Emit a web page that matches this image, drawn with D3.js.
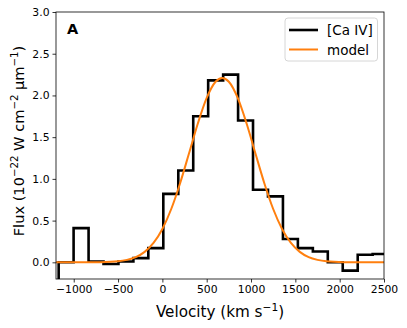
<!DOCTYPE html>
<html><head><meta charset="utf-8">
<script src="https://cdn.jsdelivr.net/npm/d3@7"></script>
<style>body{margin:0;background:#fff}svg{display:block;font-family:"DejaVu Sans",sans-serif}</style>
</head><body><svg id="c" width="407" height="328"></svg>
<script>
// Observed [Ca IV] binned spectrum (bin centre velocity, km/s) and flux
const binVelocity = [-1254,-1086,-917,-748,-580,-411,-243,-74,95,264,432,601,770,938,1107,1276,1444,1613,1782,1950,2119,2288,2456,2625];
const binFlux     = [-0.35,0.0,0.41,0.01,-0.02,0.01,0.05,0.17,0.82,1.10,1.75,2.18,2.25,1.70,0.87,0.79,0.28,0.17,0.13,0.0,-0.10,0.09,0.10,0.10];
// Model curve
const modelVelocity = [-1200,-900,-700,-500,-400,-300,-200,-100,0,100,200,300,400,500,600,675,750,850,950,1050,1150,1250,1350,1450,1550,1650,1750,1850,2050,2250,2500];
const modelFlux     = [0,0,0.002,0.012,0.029,0.062,0.125,0.232,0.400,0.639,0.948,1.304,1.664,1.970,2.164,2.210,2.164,1.970,1.664,1.304,0.948,0.639,0.400,0.232,0.125,0.062,0.029,0.012,0.002,0,0];
const xTicks = [-1000,-500,0,500,1000,1500,2000,2500];
const yTicks = [0,0.5,1.0,1.5,2.0,2.5,3.0];
const seriesNames = ["[Ca IV]","model"];

const svg = d3.select("#c");
const L=56, R=384, T=12, B=279;
const x = d3.scaleLinear().domain([-1200,2500]).range([L,R]);
const y = d3.scaleLinear().domain([-0.2,3.0]).range([B,T]);

svg.append("defs").append("clipPath").attr("id","clip")
  .append("rect").attr("x",L).attr("y",T).attr("width",R-L).attr("height",B-T);

const g = svg.append("g").attr("clip-path","url(#clip)");
g.append("path")
  .attr("d", d3.line().x((d,i)=>x(binVelocity[i])).y(d=>y(d)).curve(d3.curveStep)(binFlux))
  .attr("fill","none").attr("stroke","#000").attr("stroke-width",2.6);
g.append("path")
  .attr("d", d3.line().x((d,i)=>x(modelVelocity[i])).y(d=>y(d)).curve(d3.curveMonotoneX)(modelFlux))
  .attr("fill","none").attr("stroke","#ff7f0e").attr("stroke-width",2);

const xa = svg.append("g").attr("transform",`translate(0,${B})`)
  .call(d3.axisBottom(x).tickValues(xTicks).tickSize(3.5).tickPadding(3).tickFormat(d=>d3.format("d")(d).replace("-","\u2212")));
const ya = svg.append("g").attr("transform",`translate(${L},0)`)
  .call(d3.axisLeft(y).tickValues(yTicks).tickSize(3.5).tickPadding(3).tickFormat(d3.format(".1f")));
[xa,ya].forEach(a=>{a.select(".domain").remove();a.selectAll("text").attr("font-size",10.8).attr("fill","#000").attr("font-family","DejaVu Sans");a.selectAll("line").attr("stroke","#000").attr("stroke-width",0.8);});

svg.append("rect").attr("x",L).attr("y",T).attr("width",R-L).attr("height",B-T)
  .attr("fill","none").attr("stroke","#000").attr("stroke-width",0.8);

// axis labels
const xl = svg.append("text").attr("x",(L+R)/2).attr("y",317).attr("text-anchor","middle").attr("font-size",15.2);
xl.append("tspan").text("Velocity (km s");
xl.append("tspan").attr("dy",-6).attr("font-size",10.6).text("\u22121");
xl.append("tspan").attr("dy",6).text(")");

const yl = svg.append("text").attr("transform",`translate(24,141) rotate(-90)`).attr("text-anchor","middle").attr("font-size",14.6);
yl.append("tspan").text("Flux (10");
yl.append("tspan").attr("dy",-6).attr("font-size",10.2).text("\u221222");
yl.append("tspan").attr("dy",6).text(" W cm");
yl.append("tspan").attr("dy",-6).attr("font-size",10.2).text("\u22122");
yl.append("tspan").attr("dy",6).text(" \u03bcm");
yl.append("tspan").attr("dy",-6).attr("font-size",10.2).text("\u22121");
yl.append("tspan").attr("dy",6).text(")");

svg.append("text").attr("x",67).attr("y",33.5).attr("font-size",14.5).attr("font-weight","bold").text("A");

// legend
const lg = svg.append("g");
lg.append("rect").attr("x",285).attr("y",18).attr("width",92.5).attr("height",43).attr("rx",3)
  .attr("fill","#fff").attr("fill-opacity",0.8).attr("stroke","#ccc").attr("stroke-width",0.8);
const colors=["#000","#ff7f0e"], widths=[2.6,2];
seriesNames.forEach((n,i)=>{
  const yy = 30 + i*19.5;
  lg.append("line").attr("x1",289).attr("x2",318).attr("y1",yy).attr("y2",yy).attr("stroke",colors[i]).attr("stroke-width",widths[i]);
  lg.append("text").attr("x",327).attr("y",yy+5).attr("font-size",13.5).text(n);
});
</script></body></html>
